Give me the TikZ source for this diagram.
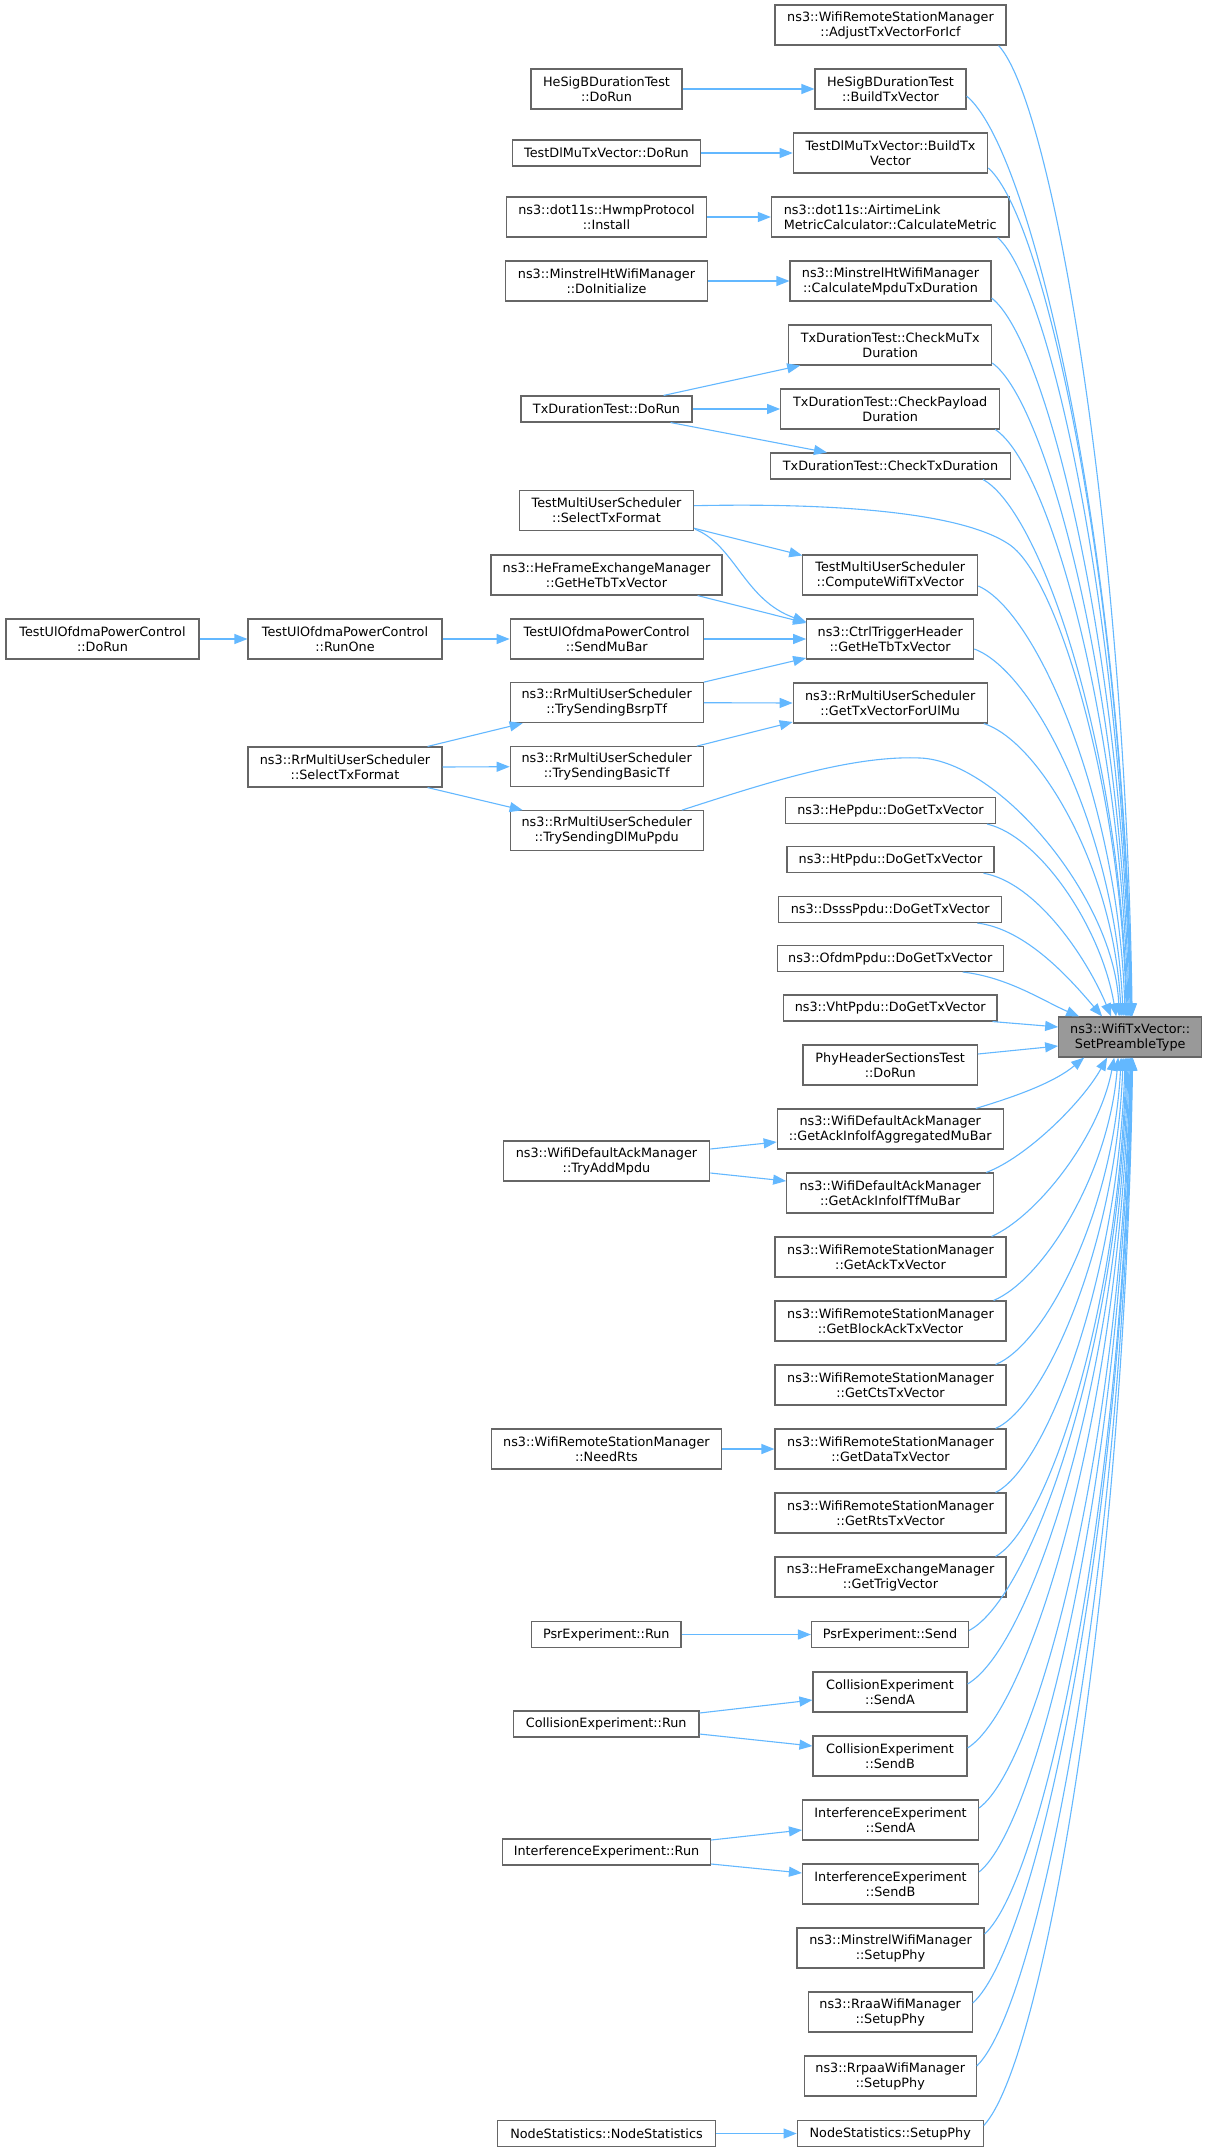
\documentclass[tikz,border=0pt]{standalone}
\usepackage{fontspec}
\setmainfont{DejaVu Sans}
\usetikzlibrary{arrows.meta,calc}
\definecolor{edgeblue}{HTML}{63B8FF}
\definecolor{boxgray}{HTML}{666666}
\definecolor{tgtfill}{HTML}{999999}
\tikzset{
 box/.style={draw=boxgray, fill=white, line width=1.1pt, inner sep=0pt, align=center, font=\fontsize{12.8}{15}\selectfont},
 edge/.style={draw=edgeblue, line width=1.1pt, -{Triangle[length=13pt,width=10pt]}},
}
\newcommand\bx[7][]{\node[box,#1,minimum width=#5pt,minimum height=#6pt] (#2) at (#3,#4) {#7};}
\newcommand\tu[4]{\draw[edge] (#1) .. controls +(#2) and +(#3) .. ($(tgt.north west)+(#4,0)$);}
\newcommand\tl[4]{\draw[edge] (#1) .. controls +(#2) and +(#3) .. ($(tgt.south west)+(#4,0)$);}
\begin{document}
\begin{tikzpicture}[x=1pt,y=-1pt]
\fill[white] (0,0) rectangle (1208,2151);
\useasboundingbox (0,0) rectangle (1208,2151);
% target
\bx[fill=tgtfill]{tgt}{1130.2}{1037}{143}{40}{ns3::WifiTxVector::\\SetPreambleType}
% right column
\bx{adj}{890.5}{25}{231}{40}{ns3::WifiRemoteStationManager\\::AdjustTxVectorForIcf}
\bx{hsbb}{890.5}{89}{151}{40}{HeSigBDurationTest\\::BuildTxVector}
\bx{tdbt}{890.5}{153}{194.5}{40}{TestDlMuTxVector::BuildTx\\Vector}
\bx[align=left]{atm}{890.2}{217}{237.6}{40}{ns3::dot11s::AirtimeLink\\MetricCalculator::CalculateMetric}
\bx{cmtd}{890.5}{281}{201}{40}{ns3::MinstrelHtWifiManager\\::CalculateMpduTxDuration}
\bx{cmu}{890.2}{345}{203}{40}{TxDurationTest::CheckMuTx\\Duration}
\bx{cpd}{890.2}{409}{219}{40}{TxDurationTest::CheckPayload\\Duration}
\bx{ctd}{890.5}{466}{240}{26}{TxDurationTest::CheckTxDuration}
\bx{cwtv}{890.3}{575}{175}{40}{TestMultiUserScheduler\\::ComputeWifiTxVector}
\bx{cth}{890.2}{639}{167}{40}{ns3::CtrlTriggerHeader\\::GetHeTbTxVector}
\bx{gtvu}{890.2}{703}{194}{40}{ns3::RrMultiUserScheduler\\::GetTxVectorForUlMu}
\bx{heppdu}{890.5}{810.5}{210}{26}{ns3::HePpdu::DoGetTxVector}
\bx{htppdu}{890.5}{859.7}{207}{26}{ns3::HtPpdu::DoGetTxVector}
\bx{dsss}{890.2}{909.5}{223}{26}{ns3::DsssPpdu::DoGetTxVector}
\bx{ofdm}{890.2}{958.5}{226}{26}{ns3::OfdmPpdu::DoGetTxVector}
\bx{vht}{890.2}{1008}{213.5}{26}{ns3::VhtPpdu::DoGetTxVector}
\bx{phs}{890.2}{1065}{174.5}{40}{PhyHeaderSectionsTest\\::DoRun}
\bx{gaiag}{890.2}{1129}{226}{40}{ns3::WifiDefaultAckManager\\::GetAckInfoIfAggregatedMuBar}
\bx{gaitf}{890.2}{1193}{207}{40}{ns3::WifiDefaultAckManager\\::GetAckInfoIfTfMuBar}
\bx{gack}{890.5}{1257}{231}{40}{ns3::WifiRemoteStationManager\\::GetAckTxVector}
\bx{gba}{890.5}{1321}{231}{40}{ns3::WifiRemoteStationManager\\::GetBlockAckTxVector}
\bx{gcts}{890.5}{1385}{231}{40}{ns3::WifiRemoteStationManager\\::GetCtsTxVector}
\bx{gdata}{890.5}{1449}{231}{40}{ns3::WifiRemoteStationManager\\::GetDataTxVector}
\bx{grts}{890.5}{1513}{231}{40}{ns3::WifiRemoteStationManager\\::GetRtsTxVector}
\bx{gtrig}{890.5}{1577}{231}{40}{ns3::HeFrameExchangeManager\\::GetTrigVector}
\bx{psend}{890}{1634.5}{157}{26}{PsrExperiment::Send}
\bx{csa}{890}{1692}{154}{40}{CollisionExperiment\\::SendA}
\bx{csb}{890}{1756}{154}{40}{CollisionExperiment\\::SendB}
\bx{isa}{890.5}{1820}{176}{40}{InterferenceExperiment\\::SendA}
\bx{isb}{890.5}{1884}{176}{40}{InterferenceExperiment\\::SendB}
\bx{mwsp}{890.5}{1948}{187}{40}{ns3::MinstrelWifiManager\\::SetupPhy}
\bx{rraa}{890.2}{2012}{164}{40}{ns3::RraaWifiManager\\::SetupPhy}
\bx{rrpaa}{890.2}{2076}{172}{40}{ns3::RrpaaWifiManager\\::SetupPhy}
\bx{nssp}{890.2}{2133.5}{186}{26}{NodeStatistics::SetupPhy}
% middle column
\bx{hsdr}{606.5}{89}{151}{40}{HeSigBDurationTest\\::DoRun}
\bx{tddr}{606.5}{153}{188}{26}{TestDlMuTxVector::DoRun}
\bx{hwmp}{606.5}{217}{200}{40}{ns3::dot11s::HwmpProtocol\\::Install}
\bx{mhdi}{606.5}{281}{202}{40}{ns3::MinstrelHtWifiManager\\::DoInitialize}
\bx{txdr}{606.5}{409}{171}{26}{TxDurationTest::DoRun}
\bx{tmsf}{606.5}{510.7}{174}{40}{TestMultiUserScheduler\\::SelectTxFormat}
\bx{hetb}{606.5}{575}{231}{40}{ns3::HeFrameExchangeManager\\::GetHeTbTxVector}
\bx{smb}{606.7}{639}{193}{40}{TestUlOfdmaPowerControl\\::SendMuBar}
\bx{bsrp}{606.7}{702.7}{193}{40}{ns3::RrMultiUserScheduler\\::TrySendingBsrpTf}
\bx{basic}{606.7}{766.7}{193}{40}{ns3::RrMultiUserScheduler\\::TrySendingBasicTf}
\bx{dlmu}{606.7}{830.7}{193}{40}{ns3::RrMultiUserScheduler\\::TrySendingDlMuPpdu}
\bx{tam}{606.5}{1161}{206.5}{40}{ns3::WifiDefaultAckManager\\::TryAddMpdu}
\bx{nrts}{606.4}{1449}{230.6}{40}{ns3::WifiRemoteStationManager\\::NeedRts}
\bx{prun}{606.3}{1634.5}{149.4}{26}{PsrExperiment::Run}
\bx{crun}{606.2}{1724}{185.6}{26}{CollisionExperiment::Run}
\bx{irun}{606.5}{1852}{208.3}{26}{InterferenceExperiment::Run}
\bx{nsns}{606.5}{2133.5}{218.5}{26}{NodeStatistics::NodeStatistics}
% left columns
\bx{udr}{102.5}{639}{193}{40}{TestUlOfdmaPowerControl\\::DoRun}
\bx{uro}{345}{639}{194}{40}{TestUlOfdmaPowerControl\\::RunOne}
\bx{rsf}{345}{767}{194}{40}{ns3::RrMultiUserScheduler\\::SelectTxFormat}
% edges into target, from above
\tu{$(adj.south east)+(-8,0)$}{54,58}{-7,-486}{74}
\tu{$(hsbb.east)+(0,7)$}{67,55}{-8,-460}{73.5}
\tu{$(tdbt.east)+(0,15)$}{58,51}{-7,-424}{73}
\tu{$(atm.south east)+(-12,0)$}{54,47}{-7,-390}{72.5}
\tu{$(cmtd.east)+(0,17)$}{56,43}{-7,-360}{72}
\tu{$(cmu.east)+(0,18)$}{55,39}{-7,-327}{71}
\tu{$(cpd.south east)+(-5,0)$}{54,35}{-7,-294}{70}
\tu{$(ctd.south east)+(-28,0)$}{58,32}{-7,-269}{69}
\draw[edge] ($(tmsf.east)+(0,-5)$) .. controls (820,503) and (960,510) .. (1010,545)
  .. controls (1060,580) and (1122,800) .. ($(tgt.north west)+(68,0)$);
\tu{$(cwtv.east)+(0,11)$}{59,26}{-7,-215}{67}
\tu{$(cth.east)+(0,10)$}{60,22}{-8,-184}{65}
\tu{$(gtvu.south east)+(-4,0)$}{56,18}{-7,-147}{63}
\draw[edge] ($(dlmu.north east)+(-22,0)$) .. controls (760,785) and (850,755) .. (920,758)
  .. controls (1000,761) and (1115,900) .. ($(tgt.north west)+(61,0)$);
\tu{$(heppdu.south east)+(-9,0)$}{52,12}{-15,-90}{58}
\tu{$(htppdu.south east)+(-11,0)$}{52,9}{-25,-60}{53}
\tu{$(dsss.south east)+(-25,0)$}{50,6}{-30,-35}{44}
\tu{$(ofdm.south east)+(-41,0)$}{45,5}{-35,-15}{21}
\draw[edge] ($(vht.south east)+(-5,0)$) -- ($(tgt.west)+(0,-10)$);
\draw[edge] ($(phs.east)+(0,-11)$) -- ($(tgt.west)+(0,9)$);
% edges into target, from below
\tl{$(gaiag.north east)+(-28,0)$}{40,-12}{-30,25}{26}
\tl{$(gaitf.north east)+(-8,0)$}{40,-15}{-25,45}{49}
\tl{$(gack.north east)+(-15,0)$}{45,-20}{-15,80}{56}
\tl{$(gba.north east)+(-13,0)$}{48,-20}{-10,120}{60}
\tl{$(gcts.north east)+(-11,0)$}{50,-20}{-8,154}{63}
\tl{$(gdata.north east)+(-11,0)$}{50,-22}{-7,186}{65}
\tl{$(grts.north east)+(-11,0)$}{52,-26}{-7,218}{67}
\tl{$(gtrig.north east)+(-11,0)$}{53,-30}{-7,250}{68}
\tl{$(psend.east)+(0,-4)$}{64,-34}{-8,287}{69}
\tl{$(csa.east)+(0,-8)$}{65,-38}{-8,313}{70}
\tl{$(csb.east)+(0,-8)$}{65,-41}{-8,345}{71}
\tl{$(isa.east)+(0,-12)$}{61,-45}{-8,375}{72}
\tl{$(isb.east)+(0,-12)$}{61,-49}{-8,407}{72.5}
\tl{$(mwsp.east)+(0,-14)$}{59,-53}{-7,438}{73}
\tl{$(rraa.east)+(0,-9)$}{64,-57}{-8,473}{73.5}
\tl{$(rrpaa.east)+(0,-10)$}{63,-61}{-8,504}{74}
\tl{$(nssp.east)+(0,-8)$}{60,-64}{-8,534}{74.5}
% other edges
\draw[edge] (hsdr.east) -- (hsbb.west);
\draw[edge] (tddr.east) -- (tdbt.west);
\draw[edge] (hwmp.east) -- (atm.west);
\draw[edge] (mhdi.east) -- (cmtd.west);
\draw[edge] ($(txdr.north east)+(-29,0)$) -- ($(cmu.south west)+(12,0)$);
\draw[edge] (txdr.east) -- (cpd.west);
\draw[edge] ($(txdr.south east)+(-22,0)$) -- ($(ctd.north west)+(57,0)$);
\draw[edge] ($(tmsf.south east)+(0,-3)$) -- ($(cwtv.north west)+(0,1)$);
\draw[edge] ($(tmsf.south east)+(1,-2)$) .. controls +(40,16) and +(-62,-22) .. ($(cth.west)+(0,-17)$);
\draw[edge] ($(hetb.south east)+(-25,0)$) -- ($(cth.west)+(0,-16)$);
\draw[edge] (smb.east) -- (cth.west);
\draw[edge] (bsrp.north east) -- ($(cth.west)+(0,19)$);
\draw[edge] (bsrp.east) -- (gtvu.west);
\draw[edge] ($(basic.north east)+(-7,0)$) -- ($(gtvu.west)+(0,19)$);
\draw[edge] (udr.east) -- (uro.west);
\draw[edge] (uro.east) -- (smb.west);
\draw[edge] ($(rsf.north east)+(-15,0)$) -- ($(bsrp.south west)+(13,0)$);
\draw[edge] (rsf.east) -- (basic.west);
\draw[edge] ($(rsf.south east)+(-15,0)$) -- ($(dlmu.north west)+(13,0)$);
\draw[edge] ($(tam.east)+(0,-12)$) -- ($(gaiag.west)+(0,13)$);
\draw[edge] ($(tam.east)+(0,12)$) -- ($(gaitf.west)+(0,-12)$);
\draw[edge] (nrts.east) -- (gdata.west);
\draw[edge] (prun.east) -- (psend.west);
\draw[edge] ($(crun.east)+(0,-11)$) -- ($(csa.west)+(0,8)$);
\draw[edge] ($(crun.east)+(0,10)$) -- ($(csb.west)+(0,-10)$);
\draw[edge] ($(irun.east)+(0,-12)$) -- ($(isa.west)+(0,10)$);
\draw[edge] ($(irun.east)+(0,12)$) -- ($(isb.west)+(0,-11)$);
\draw[edge] (nsns.east) -- (nssp.west);
\end{tikzpicture}
\end{document}
